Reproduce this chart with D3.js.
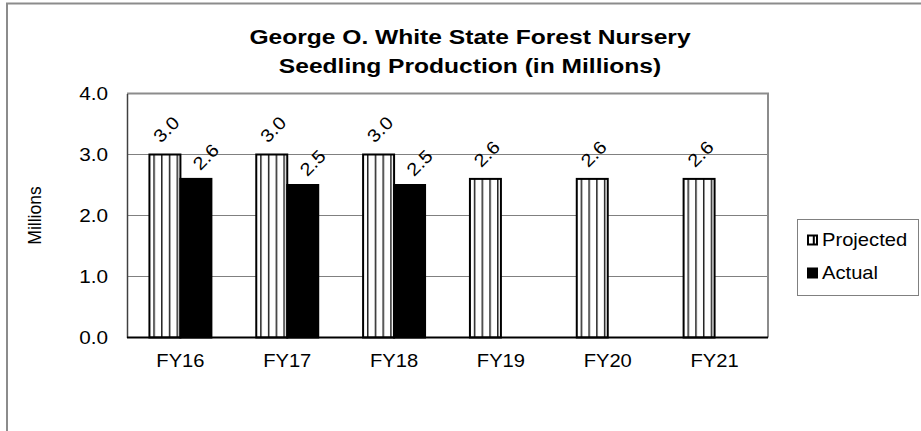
<!DOCTYPE html>
<html>
<head>
<meta charset="utf-8">
<script src="https://cdn.jsdelivr.net/npm/d3@7"></script>
<style>
  html, body { margin: 0; padding: 0; background: #fff; }
  svg { display: block; }
  text { font-family: Arial, "Liberation Sans", sans-serif; fill: #000; }
</style>
</head>
<body>
<svg id="chart" width="921" height="431"></svg>
<script>
// ---- data ----
const categories = ["FY16", "FY17", "FY18", "FY19", "FY20", "FY21"];
const seriesNames = ["Projected", "Actual"];
const projected = [3.0, 3.0, 3.0, 2.6, 2.6, 2.6];
const actual = [2.6, 2.5, 2.5, null, null, null];
const yTicks = [0, 1, 2, 3, 4];
const titleLines = ["George O. White State Forest Nursery", "Seedling Production (in Millions)"];
const yAxisTitle = "Millions";

// ---- layout ----
const plot = { left: 127, right: 768, top: 93.5, bottom: 337.5 };
const SX = 1.12; // horizontal glyph stretch of the reference rendering

const svg = d3.select("#chart");
const defs = svg.append("defs");

// vertical-stripe pattern for Projected bars
const pat = defs.append("pattern")
  .attr("id", "vstripe")
  .attr("patternUnits", "objectBoundingBox")
  .attr("width", 0.25).attr("height", 1);
pat.append("rect").attr("width", 20).attr("height", 400).attr("fill", "#fff");
pat.append("rect").attr("x", 4).attr("y", 0).attr("width", 1.3).attr("height", 400).attr("fill", "#000");

// chart area border (extends beyond view to right & bottom)
svg.append("rect")
  .attr("x", 7).attr("y", 3.5).attr("width", 1000).attr("height", 500)
  .attr("fill", "#fff").attr("stroke", "#8c8c8c").attr("stroke-width", 2);

// scales
const x = d3.scaleBand().domain(categories).range([plot.left, plot.right])
  .paddingInner(0.42).paddingOuter(0.21);
const xs = d3.scaleBand().domain(seriesNames).range([0, x.bandwidth()]);
const y = d3.scaleLinear().domain([0, 4]).range([plot.bottom, plot.top]);

// gridlines
svg.append("g").selectAll("line").data(yTicks.filter(d => d > 0 && d < 4)).join("line")
  .attr("x1", plot.left).attr("x2", plot.right)
  .attr("y1", d => y(d)).attr("y2", d => y(d))
  .attr("stroke", "#808080").attr("stroke-width", 1);

// plot border top & right
svg.append("path")
  .attr("d", `M${plot.left},${y(4)}H${plot.right}V${y(0)}`)
  .attr("fill", "none").attr("stroke", "#8c8c8c").attr("stroke-width", 2);

// y axis
const yAxis = svg.append("g").attr("transform", `translate(${plot.left},0)`)
  .call(d3.axisLeft(y).tickValues(yTicks).tickFormat(d3.format(".1f")).tickSize(0).tickPadding(19));
yAxis.select(".domain").attr("stroke", "#404040").attr("stroke-width", 1.5);
yAxis.selectAll(".tick text")
  .attr("font-size", 18.5).attr("font-family", "Arial, 'Liberation Sans', sans-serif")
  .attr("fill", "#000")
  .attr("transform", function() { const xx = +d3.select(this).attr("x"); return `translate(${xx*(1-SX)},0) scale(${SX},1)`; });

// bars
const groups = svg.append("g").selectAll("g").data(categories).join("g")
  .attr("transform", d => `translate(${x(d)},0)`);

groups.append("rect")
  .attr("x", xs("Projected"))
  .attr("y", (d, i) => y(projected[i]))
  .attr("width", xs.bandwidth())
  .attr("height", (d, i) => y(0) - y(projected[i]))
  .attr("fill", "url(#vstripe)").attr("stroke", "#000").attr("stroke-width", 2);

groups.filter((d, i) => actual[i] != null).append("rect")
  .attr("x", xs("Actual"))
  .attr("y", d => y(actual[categories.indexOf(d)]))
  .attr("width", xs.bandwidth())
  .attr("height", d => y(0) - y(actual[categories.indexOf(d)]))
  .attr("fill", "#000").attr("stroke", "#000").attr("stroke-width", 2);

// x axis line (on top)
svg.append("line").attr("x1", plot.left).attr("x2", plot.right)
  .attr("y1", y(0)).attr("y2", y(0)).attr("stroke", "#000").attr("stroke-width", 2);

// x labels
const xAxis = svg.append("g").attr("transform", `translate(0,${y(0)})`)
  .call(d3.axisBottom(x).tickSize(0).tickPadding(17));
xAxis.select(".domain").remove();
xAxis.selectAll(".tick text")
  .attr("font-size", 18).attr("font-family", "Arial, 'Liberation Sans', sans-serif").attr("fill", "#000")
  .attr("transform", `scale(${SX},1)`);

// data labels (rotated -45)
function addLabel(cx, topY, v) {
  svg.append("text")
    .attr("transform", `translate(${cx},${topY}) rotate(-45) scale(${SX},1)`)
    .attr("text-anchor", "middle").attr("dominant-baseline", "central")
    .attr("font-size", 18).text(d3.format(".1f")(v));
}
categories.forEach((c, i) => {
  addLabel(x(c) + xs("Projected") + xs.bandwidth() / 2 + 1.5, y(projected[i]) - 25, projected[i]);
  if (actual[i] != null) addLabel(x(c) + xs("Actual") + xs.bandwidth() / 2 + 10, y(actual[i]) - 22, actual[i]);
});

// title
titleLines.forEach((t, i) => {
  svg.append("text")
    .attr("transform", `translate(470,${44 + i * 29}) scale(1.2,1)`)
    .attr("text-anchor", "middle").attr("font-weight", "bold").attr("font-size", 20.5)
    .text(t);
});

// y axis title
svg.append("text")
  .attr("transform", `translate(41,${(plot.top + plot.bottom) / 2}) rotate(-90)`)
  .attr("text-anchor", "middle").attr("font-size", 17.5).text(yAxisTitle);

// legend
const lg = svg.append("g").attr("transform", "translate(797.5,219.5)");
lg.append("rect").attr("width", 121).attr("height", 76)
  .attr("fill", "#fff").attr("stroke", "#808080").attr("stroke-width", 1);
seriesNames.forEach((name, i) => {
  const g = lg.append("g").attr("transform", `translate(10.5,${16 + i * 33})`);
  g.append("rect").attr("x", 0).attr("y", 0).attr("width", 9).attr("height", 9)
    .attr("fill", name === "Projected" ? "#fff" : "#000").attr("stroke", "#000").attr("stroke-width", 2);
  if (name === "Projected") {
    g.append("line").attr("x1", 5.8).attr("x2", 5.8).attr("y1", 0).attr("y2", 9)
      .attr("stroke", "#000").attr("stroke-width", 2);
  }
  g.append("text").attr("transform", `translate(14,10) scale(${SX},1)`)
    .attr("font-size", 18).text(name);
});
</script>
</body>
</html>
